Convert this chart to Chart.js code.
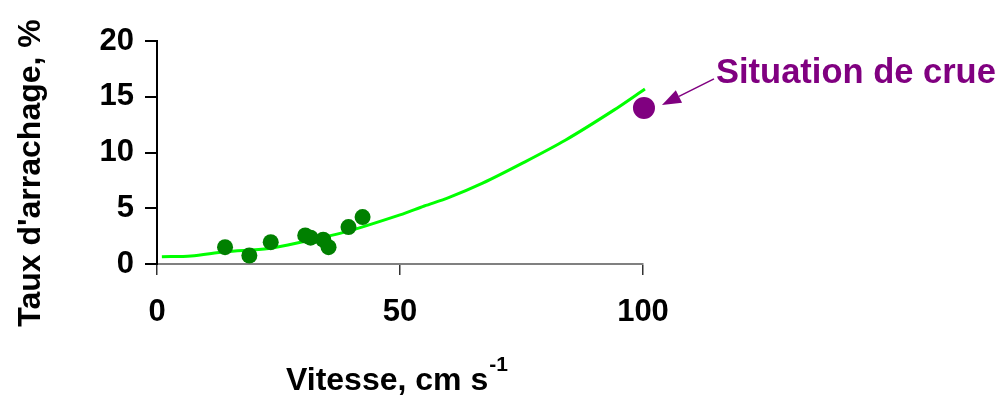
<!DOCTYPE html>
<html>
<head>
<meta charset="utf-8">
<script src="https://cdn.jsdelivr.net/npm/chart.js@4"></script>
<style>
  html, body { margin: 0; padding: 0; background: #ffffff; }
  #wrap { width: 1004px; height: 396px; position: relative; }
</style>
</head>
<body>
<div id="wrap"><canvas id="c" width="1004" height="396"></canvas></div>
<script>
// Fitted curve (vitesse, taux d'arrachage)
const curveX = [1, 7, 14, 23, 30, 39, 50, 55, 60, 67, 75, 84, 94, 100.4];
const curveY = [0.65, 0.72, 1.1, 1.4, 2.0, 2.9, 4.4, 5.2, 5.95, 7.25, 9.0, 11.1, 13.8, 15.7];

// Measured points
const obsX = [14.0, 19.0, 23.4, 30.5, 31.6, 34.2, 35.3, 39.4, 42.3];
const obsY = [1.51, 0.76, 1.96, 2.56, 2.36, 2.18, 1.51, 3.31, 4.21];

// Flood situation
const crueX = [100.2];
const crueY = [14.0];

const xTicks = [0, 50, 100];
const yTicks = [0, 5, 10, 15, 20];

const xTitle = 'Vitesse, cm s';
const xTitleSup = '-1';
const yTitle = "Taux d'arrachage, %";
const crueLabel = 'Situation de crue';

const FONT = '"Liberation Sans", Arial, sans-serif';
const PURPLE = '#800080';

const zip = (xs, ys) => xs.map((x, i) => ({ x, y: ys[i] }));

const decor = {
  id: 'decor',
  afterDraw(chart) {
    const ctx = chart.ctx;
    const xs = chart.scales.x, ys = chart.scales.y;
    ctx.save();
    // Y axis title
    ctx.fillStyle = '#000';
    ctx.font = 'bold 32px ' + FONT;
    ctx.textAlign = 'center';
    ctx.textBaseline = 'middle';
    ctx.translate(31, 173);
    ctx.rotate(-Math.PI / 2);
    ctx.fillText(yTitle, 0, 0);
    ctx.restore();

    // X axis title with superscript
    ctx.save();
    ctx.fillStyle = '#000';
    ctx.font = 'bold 32px ' + FONT;
    ctx.textAlign = 'left';
    ctx.textBaseline = 'alphabetic';
    const w = ctx.measureText(xTitle).width;
    const x0 = 286;
    ctx.fillText(xTitle, x0, 390);
    ctx.font = 'bold 21px ' + FONT;
    ctx.fillText(xTitleSup, x0 + w + 1, 371);
    ctx.restore();

    // Flood annotation: arrow + label
    const px = xs.getPixelForValue(crueX[0]);
    const py = ys.getPixelForValue(crueY[0]);
    const tipX = px + 18, tipY = py - 3;
    const tailX = px + 70, tailY = py - 29;
    ctx.save();
    ctx.strokeStyle = PURPLE;
    ctx.fillStyle = PURPLE;
    ctx.lineWidth = 1.5;
    const ang = Math.atan2(tailY - tipY, tailX - tipX);
    const hl = 19, hw = 7;
    const bx = tipX + Math.cos(ang) * hl, by = tipY + Math.sin(ang) * hl;
    ctx.beginPath();
    ctx.moveTo(bx, by);
    ctx.lineTo(tailX, tailY);
    ctx.stroke();
    ctx.beginPath();
    ctx.moveTo(tipX, tipY);
    ctx.lineTo(bx + Math.sin(ang) * hw, by - Math.cos(ang) * hw);
    ctx.lineTo(bx - Math.sin(ang) * hw, by + Math.cos(ang) * hw);
    ctx.closePath();
    ctx.fill();
    ctx.font = 'bold 34.5px ' + FONT;
    ctx.textAlign = 'left';
    ctx.textBaseline = 'alphabetic';
    ctx.fillText(crueLabel, tailX + 2, 83);
    ctx.restore();
  }
};

new Chart(document.getElementById('c'), {
  type: 'scatter',
  data: {
    datasets: [
      {
        data: zip(curveX, curveY),
        showLine: true,
        borderColor: '#00ff00',
        borderWidth: 3,
        pointRadius: 0,
        tension: 0.3,
        clip: false,
        order: 3
      },
      {
        data: zip(obsX, obsY),
        backgroundColor: '#008000',
        borderColor: '#008000',
        pointRadius: 8,
        borderWidth: 0,
        clip: false,
        order: 1
      },
      {
        data: zip(crueX, crueY),
        backgroundColor: PURPLE,
        borderColor: PURPLE,
        pointRadius: 11,
        borderWidth: 0,
        clip: false,
        order: 2
      }
    ]
  },
  options: {
    responsive: false,
    animation: false,
    events: [],
    layout: { padding: { top: 41, right: 361, left: 0, bottom: 0 } },
    plugins: { legend: { display: false }, tooltip: { enabled: false } },
    scales: {
      x: {
        type: 'linear',
        min: 0, max: 100,
        afterBuildTicks(s) { s.ticks = xTicks.map(v => ({ value: v })); },
        afterFit(s) { s.height = 132; },
        border: { color: '#808080', width: 2 },
        grid: { drawOnChartArea: false, drawTicks: true, tickLength: 11, color: '#333333', lineWidth: 1.5 },
        ticks: { color: '#000', padding: 19, font: { family: FONT, size: 31, weight: 'bold' } }
      },
      y: {
        type: 'linear',
        min: 0, max: 20,
        afterBuildTicks(s) { s.ticks = yTicks.map(v => ({ value: v })); },
        afterFit(s) { s.width = 157; },
        border: { color: '#000', width: 2 },
        grid: { drawOnChartArea: false, drawTicks: true, tickLength: 12, color: '#000', lineWidth: 2 },
        ticks: { color: '#000', padding: 11, font: { family: FONT, size: 31, weight: 'bold' } }
      }
    }
  },
  plugins: [decor]
});
</script>
</body>
</html>
